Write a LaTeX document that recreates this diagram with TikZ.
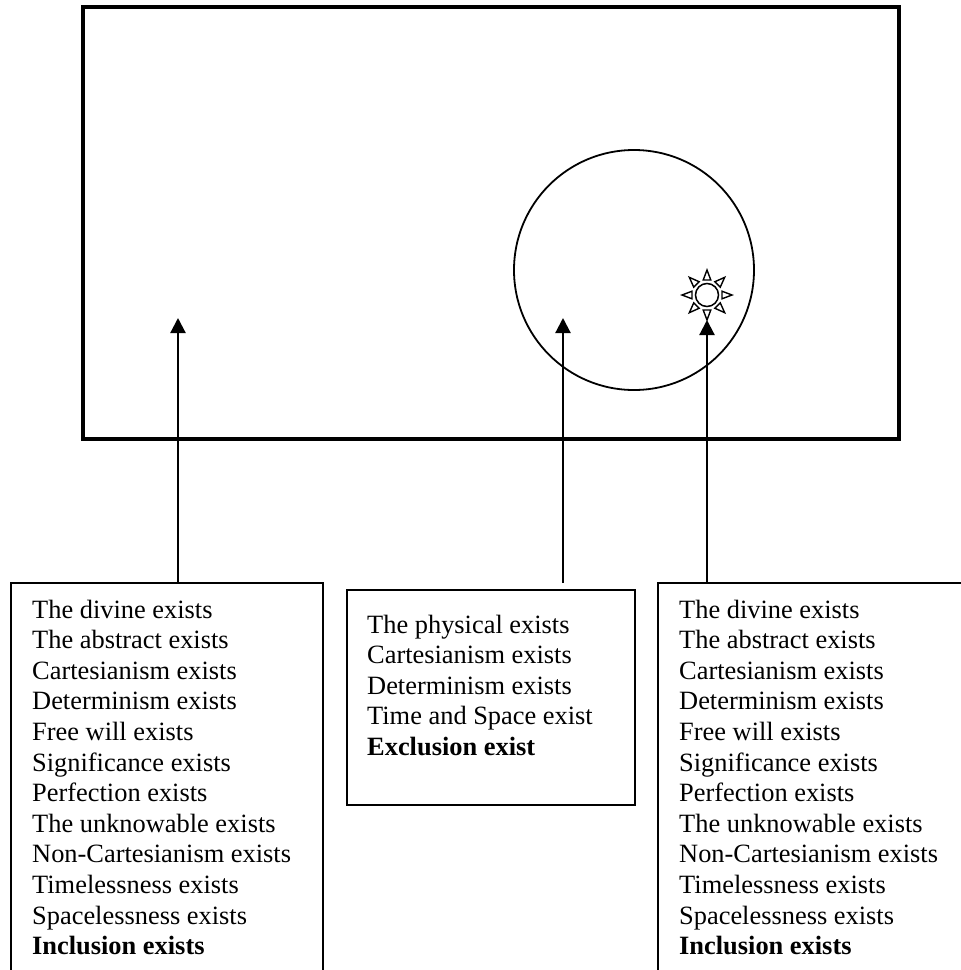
\documentclass[tikz,border=0pt]{standalone}
\usepackage{fontspec}
\setmainfont{Liberation Serif}
\usetikzlibrary{arrows.meta}
\begin{document}
\begin{tikzpicture}[x=1pt,y=-1pt,
  frame/.style={draw,rectangle,inner sep=0pt,outer sep=0pt,anchor=north west},
  listbox/.style={frame,line width=1.6pt},
  listtext/.style={anchor=base west,inner sep=0pt,font=\fontsize{26.4}{30.6}\selectfont},
  pointer/.style={line width=2.2pt,-{Triangle[length=15pt,width=15pt]}},
  ray/.style={draw,fill=white,line width=1.4pt,line join=miter}]
\useasboundingbox (0,0) rectangle (961,970);
\clip (0,0) rectangle (961,970);

% the whole of what exists, and the physical world within it
\node[frame,line width=4.3pt,minimum width=816pt,minimum height=432pt] (world) at (83,7) {};
\node[draw,circle,minimum size=240pt,inner sep=0pt,outer sep=0pt,line width=1.8pt] (phys) at (634,270) {};

% the sun inside the physical world
\node[draw,circle,minimum size=23pt,inner sep=0pt,outer sep=0pt,line width=1.5pt] (sun) at (707,295) {};
\begin{scope}[shift={(sun.center)}]
  \foreach \a in {0,45,...,315}
    \draw[ray,rotate=\a] (15,-3.8) -- (25,0) -- (15,3.8) -- cycle;
\end{scope}

% the three lists
\node[listbox,minimum width=312pt,minimum height=420pt] (lbox) at (11,583) {};
\node[listbox,minimum width=288pt,minimum height=215pt] (mbox) at (347,590) {};
\node[listbox,minimum width=330pt,minimum height=420pt] (rbox) at (658,583) {};

\node[listtext] (ltext) at (32,618) {\begin{tabular}[t]{@{}l@{}}
The divine exists\\
The abstract exists\\
Cartesianism exists\\
Determinism exists\\
Free will exists\\
Significance exists\\
Perfection exists\\
The unknowable exists\\
Non-Cartesianism exists\\
Timelessness exists\\
Spacelessness exists\\
\textbf{Inclusion exists}
\end{tabular}};

\node[listtext] (mtext) at (367,633) {\begin{tabular}[t]{@{}l@{}}
The physical exists\\
Cartesianism exists\\
Determinism exists\\
Time and Space exist\\
\textbf{Exclusion exist}
\end{tabular}};

\node[listtext] (rtext) at (679,618) {\begin{tabular}[t]{@{}l@{}}
The divine exists\\
The abstract exists\\
Cartesianism exists\\
Determinism exists\\
Free will exists\\
Significance exists\\
Perfection exists\\
The unknowable exists\\
Non-Cartesianism exists\\
Timelessness exists\\
Spacelessness exists\\
\textbf{Inclusion exists}
\end{tabular}};

% pointers from each list to where it holds
\coordinate (ltip) at (178,318);
\coordinate (mtip) at (563,318);
\coordinate (mtail) at (563,583);
\coordinate (rtip) at (707,320);
\draw[pointer] (lbox.north -| ltip) -- (ltip);
\draw[pointer] (mtail) -- (mtip);
\draw[pointer] (rbox.north -| rtip) -- (rtip);
\end{tikzpicture}
\end{document}
